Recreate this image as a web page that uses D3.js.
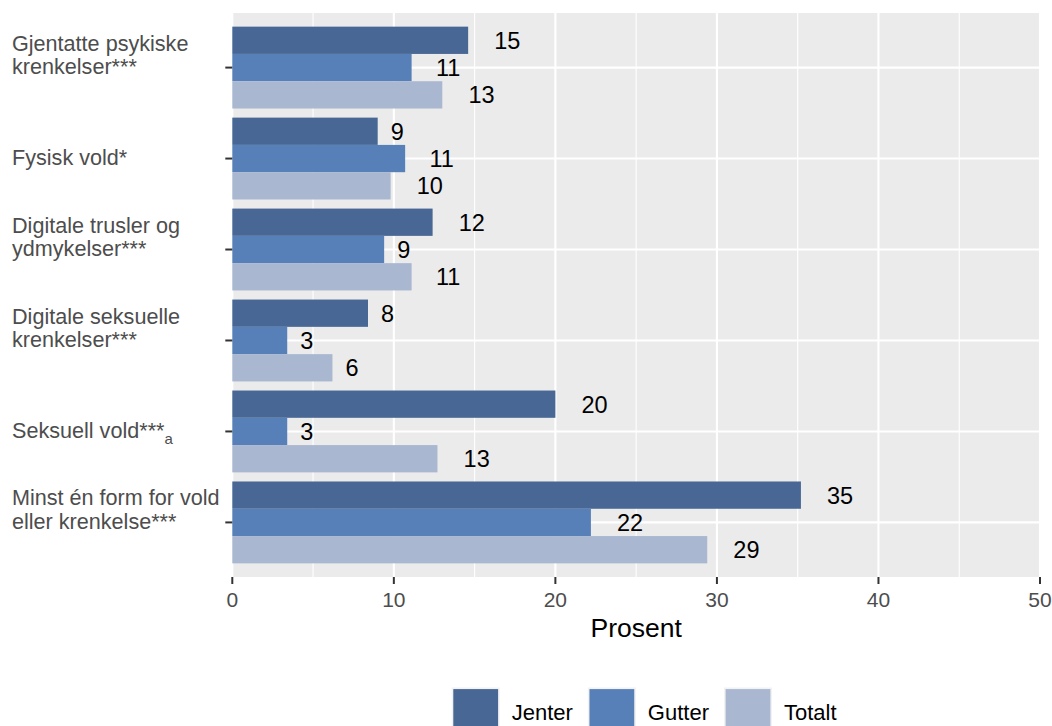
<!DOCTYPE html>
<html>
<head>
<meta charset="utf-8">
<script src="https://cdn.jsdelivr.net/npm/d3@7"></script>
<style>
  html, body { margin: 0; padding: 0; background: #ffffff; }
  svg { display: block; font-family: "Liberation Sans", Arial, Helvetica, sans-serif; }
</style>
</head>
<body>
<svg id="chart" width="1052" height="726"></svg>
<script>
// ---- Data ----
const categories = [
  ["Gjentatte psykiske", "krenkelser***"],
  ["Fysisk vold*"],
  ["Digitale trusler og", "ydmykelser***"],
  ["Digitale seksuelle", "krenkelser***"],
  ["Seksuell vold***|a"],
  ["Minst én form for vold", "eller krenkelse***"]
];
const seriesNames = ["Jenter", "Gutter", "Totalt"];
const jenter = [14.6, 9.0, 12.4, 8.4, 20.0, 35.2];
const gutter = [11.1, 10.7, 9.4, 3.4, 3.4, 22.2];
const totalt = [13.0, 9.8, 11.1, 6.2, 12.7, 29.4];
const xTicks = [0, 10, 20, 30, 40, 50];
const xMinorTicks = [5, 15, 25, 35, 45];
const colors = ["#486794", "#5880b8", "#a9b7d1"];

const seriesValues = [jenter, gutter, totalt];

// ---- Layout ----
const svg = d3.select("#chart");
const panel = { left: 232.3, right: 1040, top: 13, bottom: 577 };

const x = d3.scaleLinear().domain([0, 50]).range([panel.left, panel.right]);
const catIdx = categories.map((d, i) => i);
// discrete expansion of 0.6 units on each side
const unit = (panel.bottom - panel.top) / 6.2;
const catCenter = i => panel.top + (0.6 + i) * unit;
const groupWidth = 0.9 * unit;
const ySub = d3.scaleBand().domain(seriesNames).range([-groupWidth / 2, groupWidth / 2]).padding(0);

// panel background
svg.append("rect")
  .attr("x", panel.left).attr("y", panel.top)
  .attr("width", panel.right - panel.left).attr("height", panel.bottom - panel.top)
  .attr("fill", "#ebebeb");

// minor vertical grid
svg.append("g").selectAll("line").data(xMinorTicks).join("line")
  .attr("x1", d => x(d)).attr("x2", d => x(d))
  .attr("y1", panel.top).attr("y2", panel.bottom)
  .attr("stroke", "#ffffff").attr("stroke-width", 1.1);

// major vertical grid
svg.append("g").selectAll("line").data(xTicks).join("line")
  .attr("x1", d => x(d)).attr("x2", d => x(d))
  .attr("y1", panel.top).attr("y2", panel.bottom)
  .attr("stroke", "#ffffff").attr("stroke-width", 2.1);

// horizontal grid at category centers
svg.append("g").selectAll("line").data(catIdx).join("line")
  .attr("x1", panel.left).attr("x2", panel.right)
  .attr("y1", d => catCenter(d)).attr("y2", d => catCenter(d))
  .attr("stroke", "#ffffff").attr("stroke-width", 2.1);

// bars
const barData = [];
seriesNames.forEach((s, si) => {
  seriesValues[si].forEach((v, ci) => barData.push({ s, si, ci, v }));
});

svg.append("g").selectAll("rect").data(barData).join("rect")
  .attr("x", x(0))
  .attr("y", d => catCenter(d.ci) + ySub(d.s))
  .attr("width", d => x(d.v) - x(0))
  .attr("height", ySub.bandwidth())
  .attr("fill", d => colors[d.si]);

// value labels (hjust = -1 style: start at bar end + text width)
const fmt = d3.format(".0f");
const labels = svg.append("g").selectAll("text").data(barData).join("text")
  .attr("y", d => catCenter(d.ci) + ySub(d.s) + ySub.bandwidth() / 2)
  .attr("dy", "0.36em")
  .attr("font-size", 23.5)
  .attr("fill", "#000000")
  .text(d => fmt(d.v));
labels.each(function(d) {
  const w = this.getComputedTextLength();
  d3.select(this).attr("x", x(d.v) + w);
});

// x axis ticks
svg.append("g").selectAll("line").data(xTicks).join("line")
  .attr("x1", d => x(d)).attr("x2", d => x(d))
  .attr("y1", panel.bottom).attr("y2", panel.bottom + 7)
  .attr("stroke", "#333333").attr("stroke-width", 2);

svg.append("g").selectAll("text").data(xTicks).join("text")
  .attr("x", d => x(d)).attr("y", 606.5)
  .attr("text-anchor", "middle")
  .attr("font-size", 21)
  .attr("fill", "#4d4d4d")
  .text(d => d);

// x axis title
svg.append("text")
  .attr("x", (panel.left + panel.right) / 2).attr("y", 637)
  .attr("text-anchor", "middle")
  .attr("font-size", 26.5)
  .attr("fill", "#000000")
  .text("Prosent");

// y axis ticks
svg.append("g").selectAll("line").data(catIdx).join("line")
  .attr("x1", panel.left - 7).attr("x2", panel.left)
  .attr("y1", d => catCenter(d)).attr("y2", d => catCenter(d))
  .attr("stroke", "#333333").attr("stroke-width", 2);

// y axis labels: last line centred on tick
const lineH = 23.5;
categories.forEach((lines, i) => {
  const n = lines.length;
  lines.forEach((ln, li) => {
    const t = svg.append("text")
      .attr("x", 12)
      .attr("y", catCenter(i) - (n - 1 - li) * lineH - 1)
      .attr("dy", "0.35em")
      .attr("font-size", 21.6)
      .attr("fill", "#4d4d4d");
    const parts = ln.split("|");
    t.append("tspan").text(parts[0]);
    if (parts.length > 1) {
      t.append("tspan").attr("font-size", 15).attr("dy", 6).text(parts[1]);
    }
  });
});

// legend
const legendY = 687.5;
const keySize = 48;
let lx = 451.7;
seriesNames.forEach((s, si) => {
  const g = svg.append("g");
  g.append("rect").attr("x", lx).attr("y", legendY).attr("width", keySize).attr("height", keySize)
    .attr("fill", "#f2f2f2");
  g.append("rect").attr("x", lx + 1.6).attr("y", legendY + 1.6)
    .attr("width", keySize - 3.2).attr("height", keySize - 3.2)
    .attr("fill", colors[si]);
  const t = g.append("text")
    .attr("x", lx + keySize + 12).attr("y", 719.5)
    .attr("font-size", 22)
    .attr("fill", "#000000")
    .text(s);
  const w = t.node().getComputedTextLength();
  lx = lx + keySize + 12 + w + 15;
});
</script>
</body>
</html>
